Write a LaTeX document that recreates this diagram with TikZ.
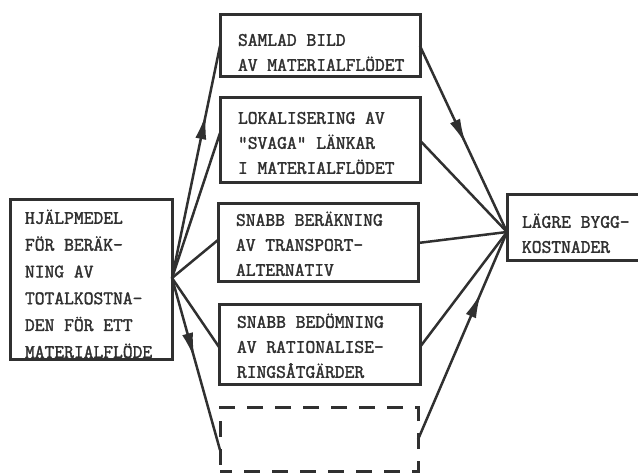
\documentclass[tikz,border=0pt]{standalone}
\usepackage{fontspec}
\usetikzlibrary{arrows.meta,decorations.markings}
\definecolor{ink}{HTML}{303030}
\newcommand{\vlines}[2]{\makebox[#1][l]{\special{pdf:literal 2 Tr 0.35 w}\vtop{#2}\special{pdf:literal 0 Tr}}}
\newcommand{\typefont}{\ttfamily}
\begin{document}
\begin{tikzpicture}[x=1pt,y=-1pt,
  boxnode/.style={draw=ink, line width=3pt, rectangle, inner ysep=0pt,
    outer sep=0pt, anchor=north west, text=ink,
    font=\fontsize{19}{25}\typefont},
  conn/.style={draw=ink, line width=2.5pt},
  midarrow/.style={postaction={decorate},
    decoration={markings, mark=at position #1 with {\arrow[ink]{Latex[length=26pt,width=11pt]}}}}
]
\useasboundingbox (0,0) rectangle (638,473);
\clip (0,0) rectangle (638,473);

% left box
\node[boxnode, inner xsep=15pt, text height=23.8pt, text depth=136.2pt,
  font=\fontsize{19}{26.8}\typefont] (L) at (10,200)
  {\vlines{132pt}{\hbox{HJÄLPMEDEL}\hbox{FÖR BERÄK-}\hbox{NING AV}\hbox{TOTALKOSTNA-}\hbox{DEN FÖR ETT}\hbox{MATERIALFLÖDE}}};

% middle boxes
\node[boxnode, inner xsep=18pt, text height=30.8pt, text depth=31.2pt] (b1) at (220,15)
  {\vlines{164pt}{\hbox{SAMLAD BILD}\hbox{AV MATERIALFLÖDET}}};
\node[boxnode, inner xsep=18pt, text height=25.8pt, text depth=59.2pt] (b2) at (220,98)
  {\vlines{164pt}{\hbox{LOKALISERING AV}\hbox{"SVAGA" LÄNKAR}\hbox{I MATERIALFLÖDET}}};
\node[boxnode, inner xsep=18pt, text height=21.8pt, text depth=56.2pt] (b3) at (218,204)
  {\vlines{164pt}{\hbox{SNABB BERÄKNING}\hbox{AV TRANSPORT-}\hbox{ALTERNATIV}}};
\node[boxnode, inner xsep=18pt, text height=22.8pt, text depth=57.2pt] (b4) at (219,305)
  {\vlines{165pt}{\hbox{SNABB BEDÖMNING}\hbox{AV RATIONALISE-}\hbox{RINGSÅTGÄRDER}}};
\node[boxnode, dash pattern=on 16pt off 12pt, dash phase=4pt, inner sep=0pt,
  minimum width=198pt, minimum height=63pt] (d) at (220,408) {};

% right box
\node[boxnode, inner xsep=15pt, text height=32.8pt, text depth=33.2pt] (R) at (507,195)
  {\vlines{130pt}{\hbox{LÄGRE BYGG-}\hbox{KOSTNADER}}};

% left fan
\draw[conn, midarrow=0.71] ([yshift=2pt]L.east) -- (b1.west);
\draw[conn] ([yshift=2pt]L.east) -- ([yshift=7.5pt]b2.west);
\draw[conn] ([yshift=2pt]L.east) -- ([yshift=3pt]b3.west);
\draw[conn] ([yshift=2pt]L.east) -- ([yshift=-2pt]b4.west);
\draw[conn, midarrow=0.47] ([yshift=2pt]L.east) -- ([yshift=-10.5pt]d.west);

% right fan
\draw[conn, midarrow=0.53] (b1.east) -- ([yshift=-4pt]R.west);
\draw[conn] (b2.east) -- ([yshift=-4pt]R.west);
\draw[conn] (b3.east) -- ([yshift=-4pt]R.west);
\draw[conn] ([yshift=-2pt]b4.east) -- ([yshift=-4pt]R.west);
\draw[conn, midarrow=0.71] (d.east) -- ([yshift=-4pt]R.west);
\end{tikzpicture}
\end{document}
